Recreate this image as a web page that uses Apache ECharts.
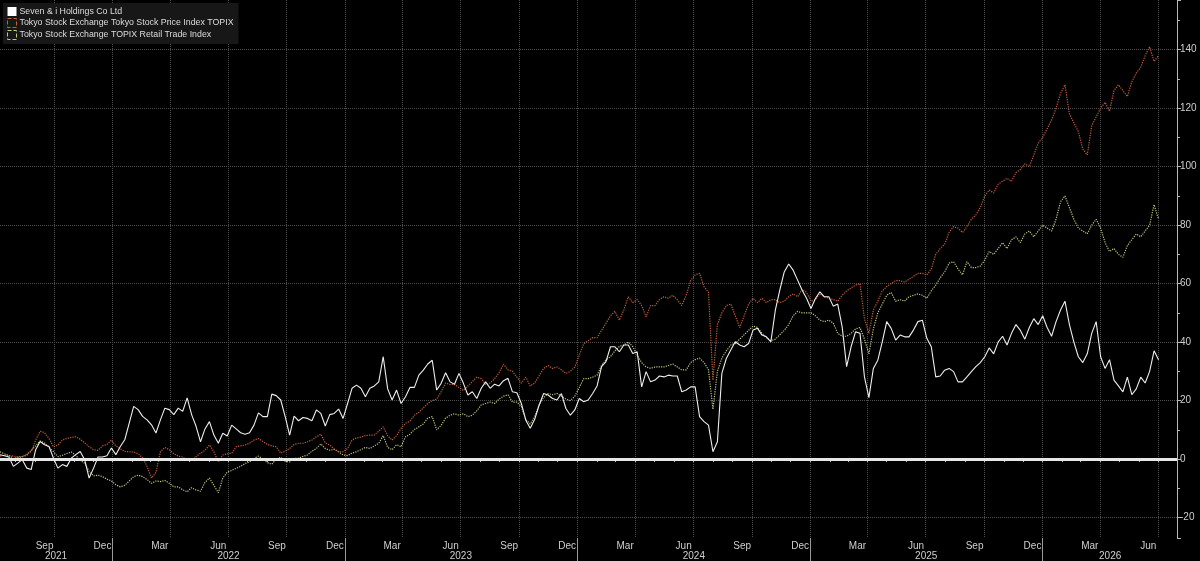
<!doctype html>
<html>
<head>
<meta charset="utf-8">
<title>Seven &amp; i vs TOPIX</title>
<style>
    html, body, #chart {
        margin: 0;
        height: 100%;
        width: 100%;
        background: #000;
    }
</style>
</head>
<body>
<div id="chart"></div>
<script src="https://cdn.jsdelivr.net/npm/echarts@6/dist/echarts.min.js"></script>
<script>
    // axis range and sampling (one reading per week)
    var startDate = '2021-07-08';
    var endDate = '2026-07-31';
    var stepDays = 7;

    var seriesNames = [
        'Seven & i Holdings Co Ltd',
        'Tokyo Stock Exchange Tokyo Stock Price Index TOPIX',
        'Tokyo Stock Exchange TOPIX Retail Trade Index'
    ];

    // % change since start
    var sevenI = [
        1.5, 1.1, 0.7, -2.5, -1.4, -0.2, -3.1, -3.6, 3.2, 6.0,
        4.9, 4.3, 0.3, -3.1, -1.9, -2.5, 0.3, 1.5, 2.6, -0.2,
        -6.5, -3.1, 0.7, 0.7, 1.1, 3.8, 1.5, 4.3, 6.6, 12.3,
        18, 16.9, 14.6, 13.4, 11.7, 8.9, 13.4, 17.4, 16.9, 15.2,
        17.4, 16.3, 20.9, 15.2, 11.2, 5.9, 10.3, 12.8, 8.2, 5.4,
        8.8, 7.9, 11.6, 10.3, 9.0, 8.5, 9.0, 11.6, 15.8, 14.5,
        14.5, 22.2, 21.7, 20.2, 14.5, 8.2, 14.7, 13.1, 14.2, 13.9,
        13.1, 16.8, 15.6, 11.3, 15.2, 15.6, 17.1, 13.9, 19, 24.2,
        25.3, 24.2, 21.3, 24.2, 25, 26.4, 35, 24, 20.2, 23.6,
        19, 21.3, 24.5, 24.5, 28.7, 30.4, 32.5, 33.8, 23.6, 25.9,
        29.5, 26.4, 25.6, 29.3, 25.9, 21.9, 23, 20.7, 24.2, 26.4,
        24.2, 25.6, 25, 26.8, 27.6, 23, 22.7, 19, 13.3, 10.5,
        13.6, 18.5, 22.4, 21.9, 20.7, 20.2, 22.4, 17.3, 15, 16.8,
        20.7, 19.6, 20.2, 22.4, 25, 31.6, 33.3, 38.4, 38.4, 36.7,
        39, 39, 36.1, 36.7, 24.7, 29.9, 26.4, 27, 28.4, 28.1,
        28.7, 28.4, 28.4, 23, 23.6, 24.7, 24.7, 14.5, 12.8, 11.6,
        2.5, 5.9, 29.3, 34.4, 37.3, 40.1, 39, 38.4, 39.5, 44.1,
        44.7, 42.4, 41.8, 40.1, 50.9, 57.8, 64, 66.7, 64.6, 61.2,
        57.8, 55, 51.5, 54.9, 57.2, 55.5, 55.5, 52.3, 53, 45.2,
        31.6, 38.4, 43.5, 43, 28.1, 21, 31, 33.8, 40.1, 47,
        44.7, 40.7, 42.4, 41.8, 41.8, 44.1, 47, 47.5, 41.3, 38.4,
        28.1, 28.4, 30.4, 31, 29.9, 26.4, 26.4, 28.1, 29.9, 31.6,
        33, 35, 38, 36, 40, 42, 39, 43, 46, 44,
        41, 45, 48, 46, 49, 45, 42, 47, 51, 54,
        46, 40, 35, 33, 36, 43, 47, 35, 31, 34,
        27, 25, 23, 28, 22, 24, 28, 26, 30, 37,
        34
    ];

    var topix = [
        1, 1.4, 1.2, 1.0, 0.8, 0.8, 1.8, 2.5, 6.5, 9.5,
        9.0, 7.0, 4.2, 4.8, 6.5, 7.0, 7.4, 7.6, 6.8, 5.5,
        4.2, 3.2, 3.0, 4.5, 5.0, 6.5, 4.5, 3.5, 2.6, 2.5,
        2.4, 1.8, 0.5, -2.5, -6.5, -4.5, 2.5, 4.0, 3.2, 1.8,
        1.0, 0.7, -0.5, -0.5, 0.8, 2, 3, 4.8, 2.5, -1,
        1.4, 1.8, 2, 4.2, 4.5, 4.8, 5.4, 6.5, 7, 6,
        5, 4.5, 4.2, 2, 2.7, 3.6, 5, 5.4, 5.4, 5.9,
        6.5, 7.6, 8.5, 5.5, 4.8, 3.4, 2.5, 2.5, 3.6, 6.5,
        7.2, 7.5, 8, 8.2, 8.2, 9.5, 11, 8, 6.5, 8,
        10.5, 12.2, 13, 15, 16, 17.5, 19, 20, 20.5, 23,
        26, 25.5, 25.5, 24.5, 23.5, 25, 26.5, 28, 27.5, 25.5,
        26, 27.5, 29.5, 32.5, 30.5, 30, 28, 26, 28, 25,
        26, 28.5, 31, 32, 31, 31.5, 30.5, 29.3, 30, 31.5,
        35.5, 39.5, 40.5, 41.5, 41.5, 44, 46.5, 49, 50.5, 47.5,
        51, 55.5, 53.5, 54.5, 52.5, 48.7, 52.5, 52.5, 54.5, 55.5,
        55, 56, 54.5, 52.5, 56, 61, 63, 63.5, 59, 57,
        27, 46, 50, 52.5, 53, 49, 45, 49, 53, 55,
        53.5, 55, 53.5, 54.5, 54.5, 53.5, 54, 55.5, 56.5, 55.5,
        58, 57, 54, 54.5, 56.5, 55.5, 55, 54.5, 54, 56,
        57.5, 58.5, 59.5, 60, 48, 43, 51, 54, 57.5, 59,
        60, 61, 61, 60.5, 61.5, 62.5, 63.5, 63.5, 63, 65,
        70, 72, 73.5, 77.5, 79.5, 79, 77.5, 79.5, 82, 83.5,
        86, 90, 92, 91, 94, 95, 96, 95, 98, 99,
        101, 100, 104, 108, 110, 113, 116, 120, 125, 128,
        118, 115, 112, 106, 104, 114, 117, 120, 122, 119,
        126, 128, 126, 124, 129, 132, 134, 138, 141, 136,
        138
    ];

    var retail = [
        2.5, 1.8, 1.2, 0.2, 0.5, 0.8, 1.3, 3.0, 4.5, 6.2,
        5.5, 4.0, 2.5, 0.8, 1.3, 1.9, 2.4, 1.3, -0.5, -1.4,
        -4.2, -5.8, -5.5, -6.0, -6.9, -7.5, -8.8, -9.5, -9.0, -7.5,
        -6.0, -5.5, -6.0, -7.0, -8.3, -7.5, -7.7, -7.3, -8.3, -9.5,
        -9.5, -10.5, -11.2, -9.8, -10.6, -11, -8, -6.5, -9, -11.5,
        -6.5, -4.5, -3.9, -3.2, -2.5, -1.5, -1, 0.2, 1, 0,
        -1.2, -1.8, 0, 0.6, -0.8, -1, 0.2, 0.3, 0.9, 1.4,
        2.7, 3.6, 5.2, 3.6, 3, 3.3, 2.5, 1.4, 1.2, 2,
        2.5, 3.2, 4, 3.6, 4.5, 5.4, 8, 4, 3.2, 4.9,
        4.2, 7.6, 8.5, 10.1, 11, 12, 14, 14.5, 10, 11.5,
        14, 15, 15.5, 15, 15.5, 14.5, 15, 16.5, 18.5, 19,
        19.5, 19, 20.5, 21.5, 22, 19.5, 19.5, 18, 13.5, 12,
        14.5, 18.5, 21, 22.4, 22, 22.4, 21.5, 20.5, 20, 21.5,
        24.5, 27.5, 27.5, 28, 28.7, 32, 34, 35, 37, 38.5,
        39, 40, 38.5, 35.5, 33, 31.5, 31, 31.5, 31.5, 31.5,
        32, 32.5, 31.5, 30.5, 30.5, 33, 34, 34.5, 33, 30.5,
        17, 30, 34.5, 37, 39, 39.5, 41, 42.5, 44, 45.5,
        45, 43, 41.5, 40.5, 41, 42.5, 44, 46, 49, 50.5,
        50, 50, 50, 49, 47.5, 47, 47.5, 46.5, 43, 42,
        42, 43, 44.5, 45, 41, 36, 44.5, 50, 53, 56,
        57, 54, 54.5, 54, 55.5, 56, 56.5, 56, 55, 57.5,
        59.5, 62, 64, 67, 67.5, 65, 63, 67.5, 65.5, 65.5,
        66, 68, 71, 70, 72, 74, 72, 75, 76, 74,
        77, 78, 76, 78, 80, 79, 78, 82, 88, 90,
        86, 82, 79, 78, 77, 80, 82, 79, 74, 71,
        72, 70, 69, 73, 75, 77, 76, 78, 80, 87,
        82
    ];

    var monthNames = ['Jan', 'Feb', 'Mar', 'Apr', 'May', 'Jun', 'Jul', 'Aug', 'Sep', 'Oct', 'Nov', 'Dec'];
    var labelMonths = [2, 5, 8, 11];   // Mar Jun Sep Dec
    var gridMonths = [0, 3, 6, 9];     // quarter starts
    var yTicks = [-20, 0, 20, 40, 60, 80, 100, 120, 140];

    var fontFamily = 'Liberation Sans, Arial, sans-serif';

    // daily category axis
    var days = [];
    var t0 = Date.parse(startDate), t1 = Date.parse(endDate);
    for (var t = t0; t <= t1; t += 864e5) {
        days.push(new Date(t).toISOString().slice(0, 10));
    }
    function ymd(s) {
        return [+s.slice(0, 4), +s.slice(5, 7) - 1, +s.slice(8, 10)];
    }

    // year label sits in the middle of the visible part of each year
    var yearLabelIdx = {};
    var firstYear = ymd(days[0])[0], lastYear = ymd(days[days.length - 1])[0];
    for (var y = firstYear; y <= lastYear; y++) {
        var a = Math.max(0, days.indexOf(y + '-01-01'));
        var b = days.indexOf(y + '-12-31');
        if (b < 0) b = days.length - 1;
        yearLabelIdx[Math.round((a + b) / 2)] = y;
    }

    function toData(arr) {
        return arr.map(function (v, i) { return [i * stepDays, v]; });
    }

    var chart = echarts.init(document.getElementById('chart'));

    var option = {
        backgroundColor: '#000',
        animation: false,
        textStyle: { fontFamily: fontFamily },
        legend: {
            orient: 'vertical',
            left: 3,
            top: 3,
            itemGap: 2,
            itemWidth: 9,
            itemHeight: 9,
            padding: [4, 5, 4, 4],
            backgroundColor: '#171717',
            textStyle: { color: '#dcdcdc', fontSize: 8.8, fontFamily: fontFamily, padding: [0, 0, 0, -2] },
            data: [
                { name: seriesNames[0], icon: 'rect', itemStyle: { color: '#ffffff', borderWidth: 0 }, lineStyle: { width: 0, opacity: 0 } },
                { name: seriesNames[1], icon: 'rect', itemStyle: { color: 'rgba(0,0,0,0)', borderColor: '#c9603c', borderWidth: 1, borderType: 'dashed' }, lineStyle: { width: 0, opacity: 0 } },
                { name: seriesNames[2], icon: 'rect', itemStyle: { color: 'rgba(0,0,0,0)', borderColor: '#c2c77a', borderWidth: 1, borderType: 'dashed' }, lineStyle: { width: 0, opacity: 0 } }
            ]
        },
        grid: { left: 0, right: 23, top: 0, bottom: 23, containLabel: false },
        xAxis: [
            {
                type: 'category',
                data: days,
                boundaryGap: false,
                axisLine: { show: true, lineStyle: { color: '#b8b8b8', width: 1 } },
                axisTick: {
                    show: true,
                    length: 3,
                    lineStyle: { color: '#b8b8b8' },
                    interval: function (i, v) { return ymd(v)[2] === 1; }
                },
                axisLabel: {
                    show: true,
                    color: '#cfcfcf',
                    fontSize: 10,
                    margin: 3,
                    interval: function (i, v) {
                        var d = ymd(v);
                        return d[2] === 16 && labelMonths.indexOf(d[1]) >= 0;
                    },
                    formatter: function (v) { return monthNames[ymd(v)[1]]; }
                },
                splitLine: {
                    show: true,
                    interval: function (i, v) {
                        var d = ymd(v);
                        return d[2] === 1 && gridMonths.indexOf(d[1]) >= 0;
                    },
                    lineStyle: { color: '#4d4d4d', type: 'dotted', width: 1 }
                }
            },
            {
                type: 'category',
                data: days,
                boundaryGap: false,
                position: 'bottom',
                axisLine: { show: false },
                axisTick: {
                    show: true,
                    length: 23,
                    lineStyle: { color: '#9a9a9a' },
                    interval: function (i, v) {
                        var d = ymd(v);
                        return d[1] === 0 && d[2] === 1;
                    }
                },
                axisLabel: {
                    show: true,
                    color: '#cfcfcf',
                    fontSize: 10,
                    margin: 13,
                    interval: function (i) { return yearLabelIdx[i] !== undefined; },
                    formatter: function (v) { return String(ymd(v)[0]); }
                },
                splitLine: { show: false }
            }
        ],
        yAxis: {
            type: 'value',
            position: 'right',
            min: -27,
            max: 157,
            splitNumber: 9,
            axisLine: { show: true, lineStyle: { color: '#b8b8b8', width: 1 } },
            axisTick: { show: true, length: 4, lineStyle: { color: '#b8b8b8' } },
            minorTick: { show: true, splitNumber: 2, length: 3, lineStyle: { color: '#b8b8b8' } },
            axisLabel: {
                color: '#cfcfcf',
                fontSize: 10,
                margin: 3,
                showMinLabel: false,
                showMaxLabel: false,
                formatter: function (v) { return yTicks.indexOf(v) >= 0 ? String(v) : ''; }
            },
            splitLine: {
                show: true,
                showMinLine: false,
                showMaxLine: false,
                lineStyle: { color: '#4d4d4d', type: 'dotted', width: 1 }
            }
        },
        series: [
            {
                name: seriesNames[2],
                type: 'line',
                data: toData(retail),
                showSymbol: false,
                symbol: 'none',
                color: '#c2c77a',
                lineStyle: { color: '#c2c77a', width: 1.2, type: 'dotted' },
                z: 2
            },
            {
                name: seriesNames[1],
                type: 'line',
                data: toData(topix),
                showSymbol: false,
                symbol: 'none',
                color: '#c9603c',
                lineStyle: { color: '#c9603c', width: 1.2, type: 'dotted' },
                z: 3
            },
            {
                name: seriesNames[0],
                type: 'line',
                data: toData(sevenI),
                showSymbol: false,
                symbol: 'none',
                color: '#eeeeee',
                lineStyle: { color: '#eeeeee', width: 1.1 },
                z: 4,
                markLine: {
                    silent: true,
                    symbol: 'none',
                    label: { show: false },
                    lineStyle: { color: '#e6e6e6', width: 3, type: 'solid' },
                    data: [{ yAxis: 0 }]
                }
            }
        ]
    };

    chart.setOption(option);
    window.addEventListener('resize', function () { chart.resize(); });
</script>
</body>
</html>
